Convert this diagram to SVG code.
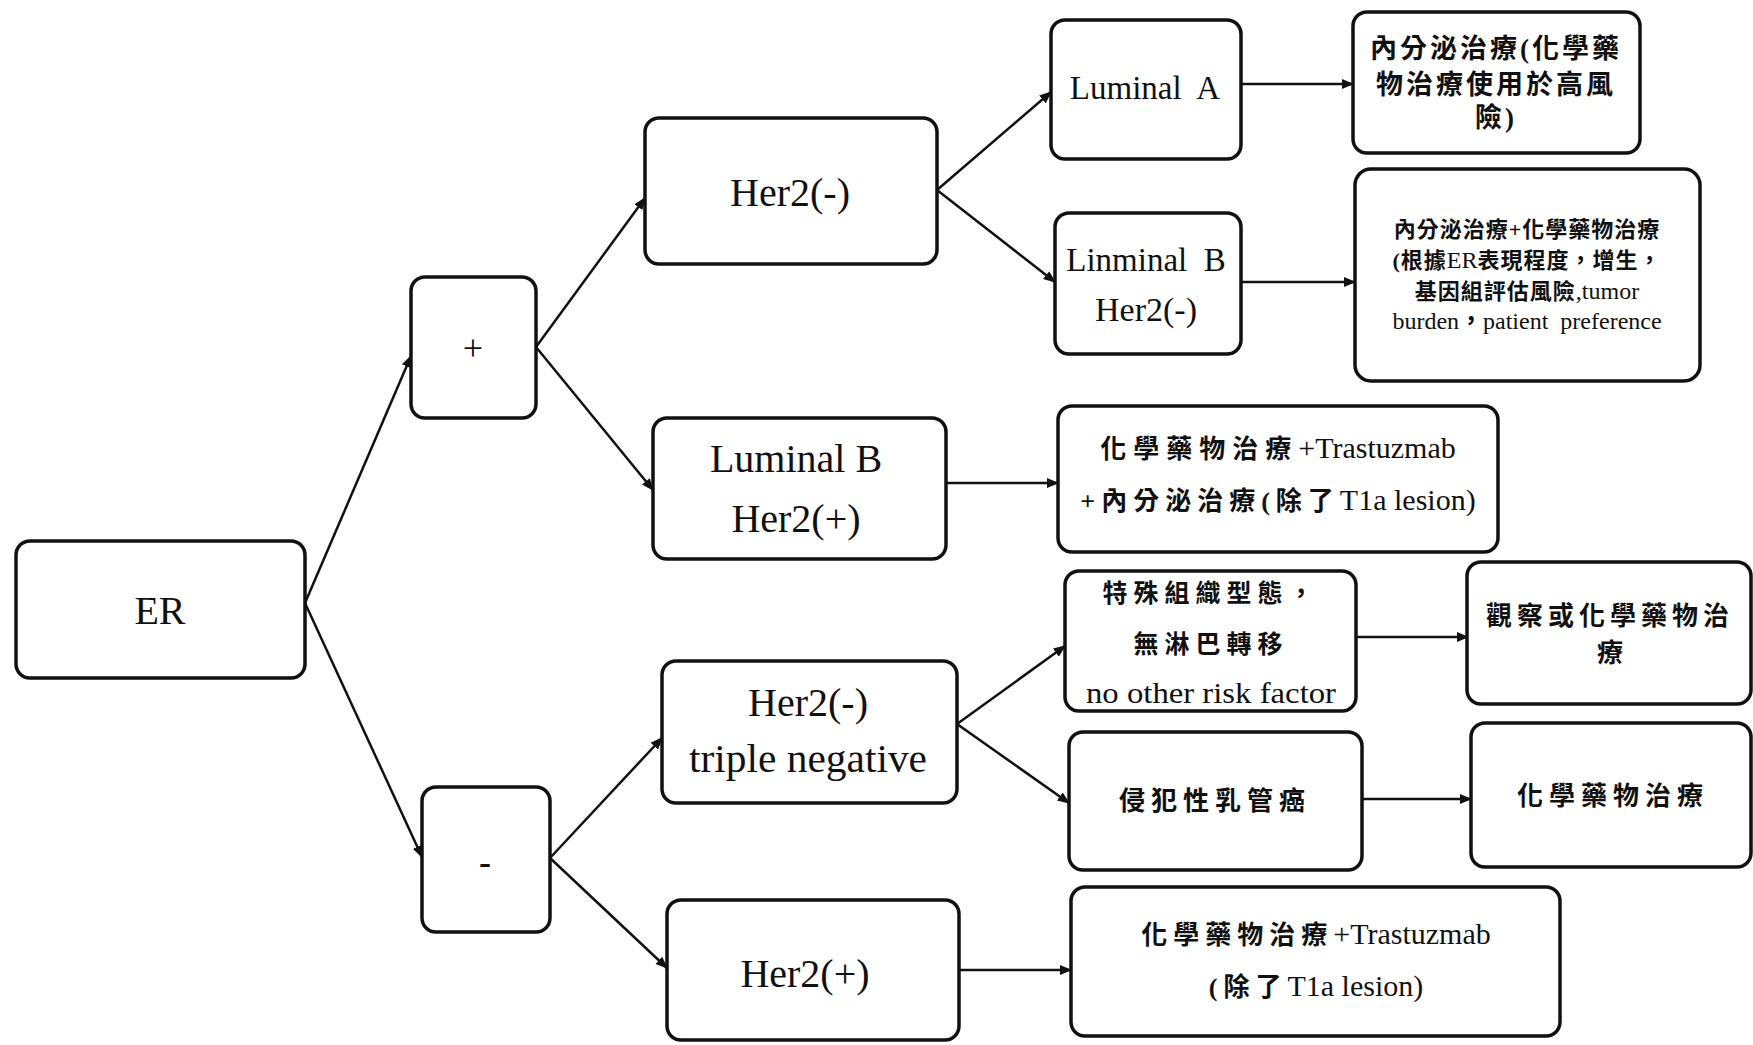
<svg xmlns="http://www.w3.org/2000/svg" width="1753" height="1045" viewBox="0 0 1753 1045">
<defs>
<marker id="ah" viewBox="0 0 10 10" refX="9" refY="5" markerWidth="5" markerHeight="5" orient="auto" markerUnits="strokeWidth">
<path d="M0,1 L10,5 L0,9 z" fill="#111"/>
</marker>
<style>
.box{fill:#fff;stroke:#111;stroke-width:3.5}
.t{font-family:"Liberation Serif","Noto Sans CJK TC",serif;fill:#111;text-anchor:middle}
.c{font-family:"Liberation Serif","Noto Sans CJK TC",serif;fill:#111;text-anchor:middle;font-weight:bold}
.l{font-weight:normal;letter-spacing:0}
.ln{stroke:#111;stroke-width:2.5;fill:none;marker-end:url(#ah)}
</style>
</defs>
<rect width="1753" height="1045" fill="#fff"/>
<g id="connectors">
<line class="ln" x1="305" y1="603" x2="411" y2="356"/>
<line class="ln" x1="305" y1="603" x2="422" y2="857"/>
<line class="ln" x1="536" y1="347" x2="645" y2="198"/>
<line class="ln" x1="536" y1="347" x2="653" y2="490"/>
<line class="ln" x1="550" y1="858" x2="662" y2="738"/>
<line class="ln" x1="550" y1="858" x2="667" y2="968"/>
<line class="ln" x1="937" y1="190" x2="1051" y2="92"/>
<line class="ln" x1="937" y1="190" x2="1055" y2="282"/>
<line class="ln" x1="1241" y1="84" x2="1353" y2="84"/>
<line class="ln" x1="1241" y1="282" x2="1355" y2="282"/>
<line class="ln" x1="946" y1="483" x2="1058" y2="483"/>
<line class="ln" x1="957" y1="724" x2="1065" y2="646"/>
<line class="ln" x1="957" y1="724" x2="1069" y2="803"/>
<line class="ln" x1="1356" y1="637" x2="1468" y2="637"/>
<line class="ln" x1="1362" y1="799" x2="1471" y2="799"/>
<line class="ln" x1="959" y1="970" x2="1071" y2="970"/>
</g>
<g id="n-er"><rect class="box" x="16" y="541" width="289" height="137" rx="14"/><text class="t" x="160" y="624" font-size="40">ER</text></g>
<g id="n-plus"><rect class="box" x="411" y="277" width="125" height="141" rx="14"/><text class="t" x="473" y="360" font-size="36">+</text></g>
<g id="n-minus"><rect class="box" x="422" y="787" width="128" height="145" rx="14"/><text class="t" x="485" y="874" font-size="36" font-weight="bold">-</text></g>
<g id="n-her2neg"><rect class="box" x="645" y="118" width="292" height="146" rx="14"/><text class="t" x="790" y="206" font-size="40">Her2(-)</text></g>
<g id="n-lumb-her2pos"><rect class="box" x="653" y="418" width="293" height="141" rx="14"/><text class="t" x="796" y="472" font-size="40">Luminal B</text><text class="t" x="796" y="532" font-size="40">Her2(+)</text></g>
<g id="n-triple"><rect class="box" x="662" y="661" width="295" height="142" rx="14"/><text class="t" x="808" y="716" font-size="40">Her2(-)</text><text class="t" x="808" y="772" font-size="41" textLength="238" lengthAdjust="spacingAndGlyphs">triple negative</text></g>
<g id="n-her2pos"><rect class="box" x="667" y="900" width="292" height="140" rx="14"/><text class="t" x="805" y="987" font-size="40">Her2(+)</text></g>
<g id="n-luma"><rect class="box" x="1051" y="20" width="190" height="139" rx="14"/><text class="t" x="1145" y="99" font-size="33" xml:space="preserve">Luminal  A</text></g>
<g id="n-linb"><rect class="box" x="1055" y="213" width="186" height="141" rx="14"/><text class="t" x="1146" y="271" font-size="33" xml:space="preserve">Linminal  B</text><text class="t" x="1146" y="321" font-size="34">Her2(-)</text></g>
<g id="n-endo"><rect class="box" x="1353" y="12" width="287" height="141" rx="14"/>
<text class="c" x="1496" y="58" font-size="27" letter-spacing="3">內分泌治療(化學藥</text>
<text class="c" x="1496" y="94" font-size="27" letter-spacing="3">物治療使用於高風</text>
<text class="c" x="1496" y="127" font-size="27" letter-spacing="3">險)</text></g>
<g id="n-endochemo"><rect class="box" x="1355" y="169" width="345" height="212" rx="16"/>
<text class="c" x="1527" y="237" font-size="22" letter-spacing="1">內分泌治療+化學藥物治療</text>
<text class="c" x="1527" y="268" font-size="22" letter-spacing="1">(根據<tspan class="l" font-size="24">ER</tspan>表現程度，增生，</text>
<text class="c" x="1527" y="299" font-size="22" letter-spacing="1">基因組評估風險<tspan class="l" font-size="24">,tumor</tspan></text>
<text class="c" x="1527" y="329" font-size="24" xml:space="preserve"><tspan class="l">burden</tspan>，<tspan class="l">patient  preference</tspan></text></g>
<g id="n-chemotrast1"><rect class="box" x="1058" y="406" width="440" height="146" rx="14"/>
<text class="c" x="1278" y="458" font-size="26" letter-spacing="7">化學藥物治療<tspan class="l" font-size="30">+Trastuzmab</tspan></text>
<text class="c" x="1278" y="510" font-size="26" letter-spacing="6">+內分泌治療(除了<tspan class="l" font-size="30">T1a lesion)</tspan></text></g>
<g id="n-special"><rect class="box" x="1065" y="571" width="291" height="140" rx="14"/>
<text class="c" x="1211" y="602" font-size="25" letter-spacing="6">特殊組織型態，</text>
<text class="c" x="1211" y="653" font-size="25" letter-spacing="6">無淋巴轉移</text>
<text class="t" x="1211" y="703" font-size="30" textLength="250" lengthAdjust="spacingAndGlyphs">no other risk factor</text></g>
<g id="n-obs"><rect class="box" x="1467" y="562" width="284" height="142" rx="14"/>
<text class="c" x="1610" y="625" font-size="26" letter-spacing="5">觀察或化學藥物治</text>
<text class="c" x="1610" y="662" font-size="26">療</text></g>
<g id="n-idc"><rect class="box" x="1069" y="732" width="293" height="138" rx="14"/>
<text class="c" x="1215" y="810" font-size="26" letter-spacing="6">侵犯性乳管癌</text></g>
<g id="n-chemo"><rect class="box" x="1471" y="723" width="280" height="144" rx="14"/>
<text class="c" x="1613" y="805" font-size="26" letter-spacing="6">化學藥物治療</text></g>
<g id="n-chemotrast2"><rect class="box" x="1071" y="887" width="489" height="149" rx="14"/>
<text class="c" x="1316" y="944" font-size="26" letter-spacing="6">化學藥物治療<tspan class="l" font-size="30">+Trastuzmab</tspan></text>
<text class="c" x="1316" y="996" font-size="26" letter-spacing="6">(除了<tspan class="l" font-size="30">T1a lesion)</tspan></text></g>
</svg>
